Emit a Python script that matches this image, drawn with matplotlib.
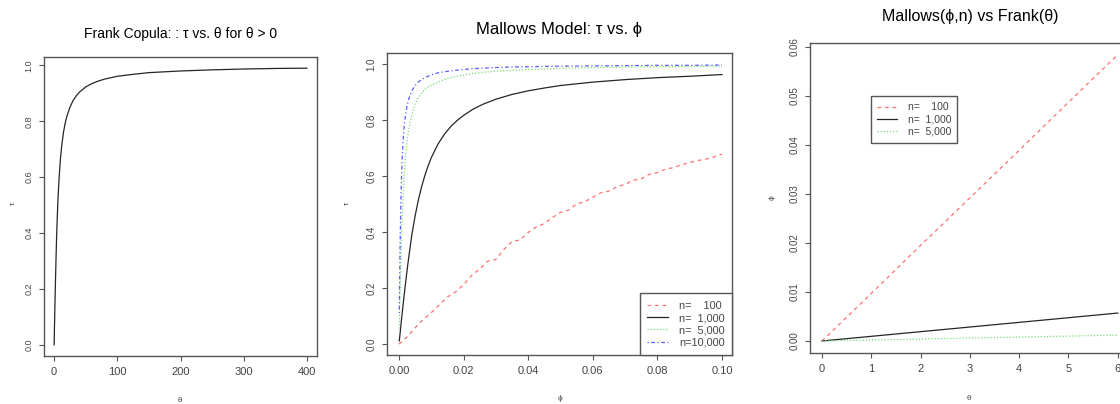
import matplotlib
matplotlib.use("Agg")
import matplotlib.pyplot as plt

# Frank copula: tau vs theta
theta_frank = [0.01, 0.5, 1, 1.5, 2, 3, 4, 5, 6, 7, 8, 10, 12, 15, 17.5, 20, 25,
               30, 35, 40, 50, 60, 70, 80, 90, 100, 125, 150, 200, 250, 300,
               350, 400]
tau_frank = [0.0, 0.055, 0.110, 0.164, 0.214, 0.307, 0.391, 0.457, 0.514, 0.561,
             0.601, 0.665, 0.712, 0.763, 0.793, 0.816, 0.850, 0.874, 0.891,
             0.904, 0.923, 0.935, 0.944, 0.951, 0.956, 0.961, 0.968, 0.974,
             0.980, 0.984, 0.987, 0.989, 0.990]

# Mallows model: tau vs phi
phi_100 = [i * 0.0025 for i in range(41)]
tau_100 = [0.000, 0.025, 0.058, 0.088, 0.112, 0.140, 0.168, 0.186, 0.212, 0.245,
           0.268, 0.296, 0.302, 0.338, 0.366, 0.372, 0.398, 0.418, 0.430, 0.452,
           0.470, 0.478, 0.500, 0.508, 0.524, 0.540, 0.546, 0.562, 0.570, 0.585,
           0.590, 0.606, 0.612, 0.624, 0.630, 0.640, 0.648, 0.655, 0.660, 0.668,
           0.678]
phi_grid = [0.0001, 0.0003, 0.0005, 0.00075, 0.001, 0.0015, 0.002, 0.0025,
            0.003, 0.004, 0.005, 0.006, 0.007, 0.008, 0.009, 0.01, 0.012, 0.014,
            0.016, 0.018, 0.02, 0.023, 0.026, 0.03, 0.035, 0.04, 0.045, 0.05,
            0.06, 0.07, 0.08, 0.09, 0.1]
tau_1000 = [0.011, 0.033, 0.055, 0.083, 0.110, 0.164, 0.214, 0.262, 0.307, 0.391,
            0.457, 0.514, 0.561, 0.601, 0.635, 0.665, 0.712, 0.748, 0.776, 0.798,
            0.816, 0.839, 0.856, 0.874, 0.891, 0.904, 0.914, 0.923, 0.935,
            0.944, 0.951, 0.956, 0.962]
tau_5000 = [0.055, 0.164, 0.262, 0.371, 0.457, 0.582, 0.665, 0.723, 0.765, 0.818,
            0.858, 0.880, 0.896, 0.909, 0.917, 0.924, 0.935, 0.944, 0.951,
            0.956, 0.961, 0.966, 0.970, 0.974, 0.977, 0.980, 0.982, 0.984,
            0.987, 0.989, 0.990, 0.991, 0.992]
tau_10000 = [0.110, 0.307, 0.457, 0.582, 0.665, 0.763, 0.816, 0.850, 0.874, 0.904,
             0.923, 0.935, 0.944, 0.951, 0.956, 0.961, 0.968, 0.972, 0.975,
             0.978, 0.980, 0.983, 0.985, 0.987, 0.989, 0.990, 0.991, 0.992,
             0.993, 0.994, 0.995, 0.995, 0.996]
labels_mallows = ["n=    100", "n=  1,000", "n=  5,000", "n=10,000"]

# Mallows(phi, n) vs Frank(theta)
theta_map = [0, 1, 2, 3, 4, 5, 6]
phi_map_100 = [0.0, 0.0097, 0.0195, 0.0292, 0.0389, 0.0487, 0.0584]
phi_map_1000 = [0.0, 0.00095, 0.0019, 0.00285, 0.0038, 0.00475, 0.0057]
phi_map_5000 = [0.0, 0.0002, 0.0004, 0.0006, 0.0008, 0.001, 0.0012]
labels_map = ["n=    100", "n=  1,000", "n=  5,000"]

W, H = 1120, 404
SANS = ["Liberation Sans", "DejaVu Sans"]
GRAY = "#444444"
RED, BLACK, GREEN, BLUE = "#ff7070", "#262626", "#78dc78", "#5a5aff"

plt.rcParams["font.family"] = SANS
plt.rcParams["axes.edgecolor"] = "#555555"
plt.rcParams["axes.linewidth"] = 1.0

fig = plt.figure(figsize=(W / 100, H / 100), dpi=100)


def make_axes(left, top, right, bottom):
    ax = fig.add_axes([left / W, (H - bottom) / H, (right - left) / W, (bottom - top) / H])
    ax.tick_params(direction="out", length=3.6, width=0.8, color="#555555",
                   labelcolor=GRAY)
    ax.tick_params(axis="x", pad=4, labelsize=8)
    ax.tick_params(axis="y", pad=4, labelsize=7, labelrotation=90)
    return ax


def fix_ylabels(ax):
    for lab in ax.get_yticklabels():
        lab.set_va("center")
        lab.set_rotation(90)


def axis_text(x, y, s, rot=0):
    fig.text(x / W, 1 - y / H, s, ha="center", va="center", rotation=rot,
             fontsize=6, color=GRAY)


def style_legend(leg):
    for t in leg.get_texts():
        t.set_color(GRAY)
    leg.get_frame().set_linewidth(1.0)


# panel 1
ax1 = make_axes(44, 57, 317, 356)
ax1.plot(theta_frank, tau_frank, color=BLACK, lw=0.9)
ax1.set_xlim(-16, 416)
ax1.set_ylim(-0.04, 1.03)
ax1.set_xticks([0, 100, 200, 300, 400])
ax1.set_yticks([0.0, 0.2, 0.4, 0.6, 0.8, 1.0])
ax1.tick_params(axis="y", labelsize=6.5)
fix_ylabels(ax1)
ax1.set_title("Frank Copula: : τ vs. θ for θ > 0", fontsize=10, pad=14)
axis_text(180, 400, "θ")
axis_text(13, 203, "τ", rot=90)

# panel 2
ax2 = make_axes(387, 53, 732, 355)
ax2.plot(phi_100, tau_100, color=RED, lw=0.9, dashes=(3, 3), label=labels_mallows[0])
ax2.plot(phi_grid, tau_1000, color=BLACK, lw=0.9, label=labels_mallows[1])
ax2.plot(phi_grid, tau_5000, color=GREEN, lw=0.9, dashes=(1, 1.5), label=labels_mallows[2])
ax2.plot(phi_grid, tau_10000, color=BLUE, lw=0.9, dashes=(1, 2, 3, 2), label=labels_mallows[3])
ax2.set_xlim(-0.0037, 0.1031)
ax2.set_ylim(-0.039, 1.039)
ax2.set_xticks([0.0, 0.02, 0.04, 0.06, 0.08, 0.10])
ax2.set_xticklabels(["0.00", "0.02", "0.04", "0.06", "0.08", "0.10"])
ax2.set_yticks([0.0, 0.2, 0.4, 0.6, 0.8, 1.0])
fix_ylabels(ax2)
leg2 = ax2.legend(loc="lower right", borderaxespad=0, fancybox=False,
                  edgecolor="#555555", framealpha=1, handlelength=1.9,
                  handletextpad=1.0, labelspacing=0.2, borderpad=0.7,
                  prop={"size": 7.8})
style_legend(leg2)
ax2.set_title("Mallows Model: τ vs. ϕ", fontsize=12, pad=14)
axis_text(560, 398, "ϕ")
axis_text(347, 203, "τ", rot=90)

# panel 3 (runs past the right edge of the picture)
ax3 = make_axes(810, 43, 1133, 353)
ax3.plot(theta_map, phi_map_100, color=RED, lw=0.9, dashes=(3, 3), label=labels_map[0])
ax3.plot(theta_map, phi_map_1000, color=BLACK, lw=0.9, label=labels_map[1])
ax3.plot(theta_map, phi_map_5000, color=GREEN, lw=0.9, dashes=(1, 1.5), label=labels_map[2])
ax3.set_xlim(-0.243, 6.31)
ax3.set_ylim(-0.00245, 0.0608)
ax3.set_xticks([0, 1, 2, 3, 4, 5, 6])
ax3.set_yticks([0.0, 0.01, 0.02, 0.03, 0.04, 0.05, 0.06])
ax3.set_yticklabels(["0.00", "0.01", "0.02", "0.03", "0.04", "0.05", "0.06"])
fix_ylabels(ax3)
leg3 = ax3.legend(loc="upper left", bbox_to_anchor=(0.189, 0.829), borderaxespad=0,
                  fancybox=False, edgecolor="#555555", framealpha=1,
                  handlelength=1.9, handletextpad=1.0, labelspacing=0.2,
                  borderpad=0.6, prop={"size": 7.5})
style_legend(leg3)
fig.text(970 / W, 1 - 17 / H, "Mallows(ϕ,n) vs Frank(θ)", ha="center", va="center",
         fontsize=11.5)
axis_text(969, 398, "θ")
axis_text(772, 198, "ϕ", rot=90)

fig.savefig("out.png", dpi=100)
